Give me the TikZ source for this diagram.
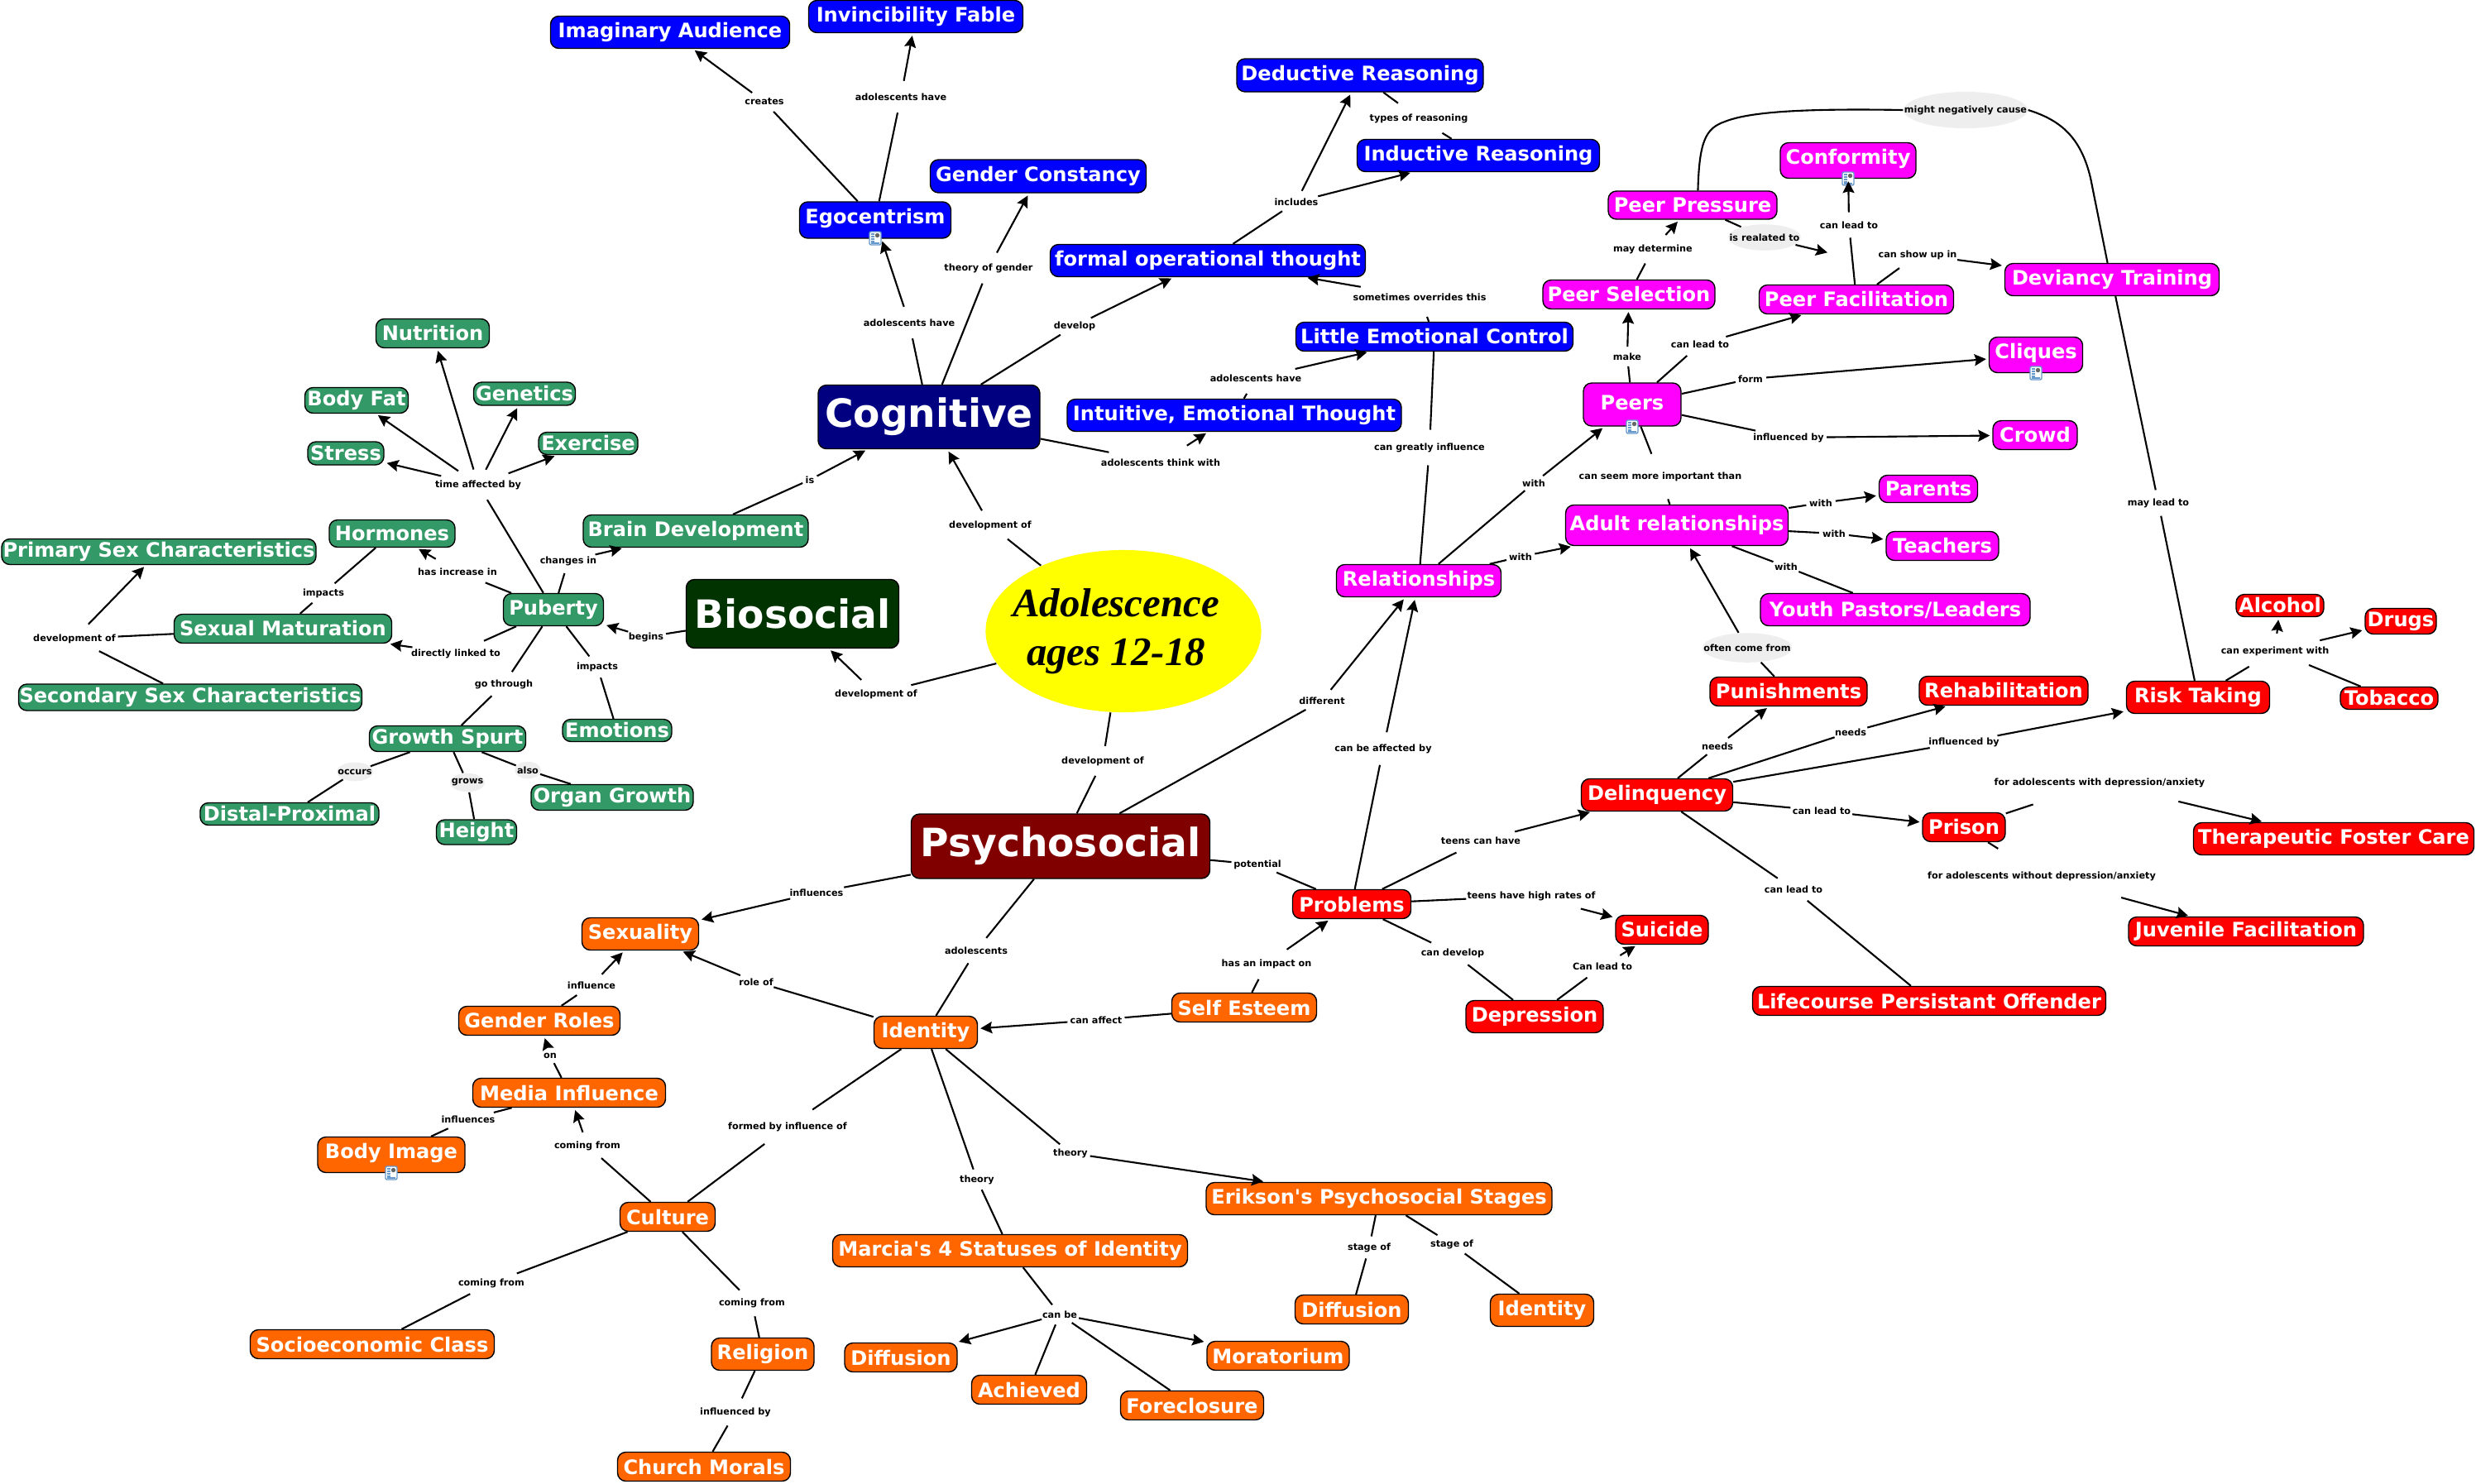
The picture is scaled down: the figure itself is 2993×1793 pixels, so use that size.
\documentclass[tikz,border=0pt]{standalone}
\usepackage{fontspec}
\setmainfont{DejaVu Sans}
\newfontfamily\titlefont{Liberation Serif}
\usetikzlibrary{shapes.geometric,arrows.meta}

\tikzset{
	concept/.style 2 args={draw=black,line width=0.4pt,rounded corners=0.1cm,text=white,inner sep=0pt,minimum width=#1*0.01cm,minimum height=#2*0.01cm,font=\fontsize{6.85}{8}\selectfont\bfseries},
	branch/.style 2 args={draw=black,line width=0.4pt,rounded corners=0.1cm,text=white,inner sep=0pt,minimum width=#1*0.01cm,minimum height=#2*0.01cm,font=\fontsize{13.4}{15}\selectfont\bfseries},
	phrase/.style={ellipse,inner sep=-60pt,minimum width={(#1+8)*0.01cm},minimum height={(14+0.2*(#1+8))*0.01cm},font=\fontsize{3.2}{4}\selectfont\bfseries},
	shaded/.style={fill=phrasegrey},
	link/.style={line width=0.6pt},
	linkto/.style={link,-{Stealth[inset=0.02cm,length=0.14cm,width=0.14cm]},shorten >=0.03cm},
	docicon/.style={draw=iconblue,fill=white,inner sep=0pt,minimum width=0.14cm,minimum height=0.16cm,rounded corners=0.02cm,line width=0.4pt,
		path picture={
			\fill[black!60] ([shift={(0,-6)}]path picture bounding box.center) rectangle ([shift={(5,-1)}]path picture bounding box.center);
			\foreach \yy in {-5,-2,1,4}
				\draw[line width=0.3pt] ([shift={(-5,\yy)}]path picture bounding box.center) -- ([shift={(-1,\yy)}]path picture bounding box.center);
			\draw[line width=0.3pt] ([shift={(-5,6)}]path picture bounding box.center) -- ([shift={(5,6)}]path picture bounding box.center);
		}}
}

\begin{document}
\begin{tikzpicture}[x=0.01cm,y=-0.01cm]
	\definecolor{cgreen}{HTML}{339966}
	\definecolor{cblue}{HTML}{0000FF}
	\definecolor{cnavy}{HTML}{000080}
	\definecolor{cforest}{HTML}{003300}
	\definecolor{cmaroon}{HTML}{800000}
	\definecolor{corange}{HTML}{FF6600}
	\definecolor{cpink}{HTML}{FF00FF}
	\definecolor{cred}{HTML}{FF0000}
	\definecolor{cyellow}{HTML}{FFFF00}
	\definecolor{phrasegrey}{HTML}{EEEEEE}
	\definecolor{iconblue}{HTML}{6699CC}
	\useasboundingbox (0,0) rectangle (2993,1793);

	\node[ellipse,fill=cyellow,inner sep=-60pt,minimum width=3.33cm,minimum height=1.96cm,align=center,font=\fontsize{13.9}{16.8}\selectfont\titlefont\bfseries\itshape] (teen) at (1358,763) {Adolescence\hspace*{0.18cm}\\ages 12-18\hspace*{0.18cm}};

	\node[branch={268}{77},fill=cnavy] (cognitive) at (1123,504) {Cognitive};
	\node[branch={257}{83},fill=cforest] (biosocial) at (958,742) {Biosocial};
	\node[branch={361}{78},fill=cmaroon] (psychosocial) at (1282,1023) {Psychosocial};

	\node[concept={289}{39},fill=cblue] (imaginary) at (810,39) {Imaginary Audience};
	\node[concept={259}{39},fill=cblue] (invincibility) at (1107,20) {Invincibility Fable};
	\node[concept={261}{40},fill=cblue] (constancy) at (1255,213) {Gender Constancy};
	\node[concept={183}{44},fill=cblue,text depth=0.1cm] (egocentrism) at (1058,266) {Egocentrism};
	\node[concept={298}{40},fill=cblue] (deductive) at (1644,91) {Deductive Reasoning};
	\node[concept={293}{39},fill=cblue] (inductive) at (1787,188) {Inductive Reasoning};
	\node[concept={381}{39},fill=cblue] (formal) at (1460,315) {formal operational thought};
	\node[concept={335}{35},fill=cblue] (little) at (1734,407) {Little Emotional Control};
	\node[concept={404}{39},fill=cblue] (intuitive) at (1492,502) {Intuitive, Emotional Thought};

	\node[concept={137}{35},fill=cgreen] (nutrition) at (523,403) {Nutrition};
	\node[concept={125}{31},fill=cgreen] (bodyfat) at (431,484) {Body Fat};
	\node[concept={123}{28},fill=cgreen] (genetics) at (634,476) {Genetics};
	\node[concept={92}{28},fill=cgreen] (stress) at (418,548) {Stress};
	\node[concept={120}{27},fill=cgreen] (exercise) at (711,536) {Exercise};
	\node[concept={152}{33},fill=cgreen] (hormones) at (474,645) {Hormones};
	\node[concept={380}{31},fill=cgreen] (primary) at (192,667) {Primary Sex Characteristics};
	\node[concept={263}{35},fill=cgreen] (sexual) at (342,760) {Sexual Maturation};
	\node[concept={415}{32},fill=cgreen] (secondary) at (230,843) {Secondary Sex Characteristics};
	\node[concept={121}{39},fill=cgreen] (puberty) at (669,737) {Puberty};
	\node[concept={272}{39},fill=cgreen] (brain) at (841,642) {Brain Development};
	\node[concept={132}{27},fill=cgreen] (emotions) at (746,883) {Emotions};
	\node[concept={189}{31},fill=cgreen] (growth) at (541,893) {Growth Spurt};
	\node[concept={196}{31},fill=cgreen] (organ) at (740,964) {Organ Growth};
	\node[concept={216}{27},fill=cgreen] (distal) at (350,984) {Distal-Proximal};
	\node[concept={97}{30},fill=cgreen] (height) at (576,1006) {Height};

	\node[concept={199}{39},fill=cpink] (relationships) at (1715,702) {Relationships};
	\node[concept={164}{43},fill=cpink,text depth=0.1cm] (conformity) at (2234,194) {Conformity};
	\node[concept={204}{34},fill=cpink] (pressure) at (2046,248) {Peer Pressure};
	\node[concept={208}{35},fill=cpink] (selection) at (1969,356) {Peer Selection};
	\node[concept={235}{35},fill=cpink] (facilitation) at (2244,362) {Peer Facilitation};
	\node[concept={259}{39},fill=cpink] (deviancy) at (2553,338) {Deviancy Training};
	\node[concept={113}{43},fill=cpink,text depth=0.1cm] (cliques) at (2461,429) {Cliques};
	\node[concept={118}{52},fill=cpink,text depth=0.05cm] (peers) at (1973,489) {Peers};
	\node[concept={102}{35},fill=cpink] (crowd) at (2460,526) {Crowd};
	\node[concept={119}{33},fill=cpink] (parents) at (2331,591) {Parents};
	\node[concept={269}{49},fill=cpink] (adult) at (2027,635) {Adult relationships};
	\node[concept={136}{35},fill=cpink] (teachers) at (2348,660) {Teachers};
	\node[concept={326}{39},fill=cpink] (pastors) at (2291,737) {Youth Pastors/Leaders};

	\node[concept={143}{35},fill=cred] (problems) at (1634,1093) {Problems};
	\node[concept={166}{39},fill=cred] (depression) at (1855,1229) {Depression};
	\node[concept={112}{35},fill=cred] (suicide) at (2009,1124) {Suicide};
	\node[concept={183}{39},fill=cred] (delinquency) at (2003,961) {Delinquency};
	\node[concept={190}{35},fill=cred] (punishments) at (2162,836) {Punishments};
	\node[concept={204}{35},fill=cred] (rehabilitation) at (2422,835) {Rehabilitation};
	\node[concept={173}{39},fill=cred] (risk) at (2657,843) {Risk Taking};
	\node[concept={106}{27},fill=cred] (alcohol) at (2756,732) {Alcohol};
	\node[concept={86}{31},fill=cred] (drugs) at (2902,751) {Drugs};
	\node[concept={118}{27},fill=cred] (tobacco) at (2888,844) {Tobacco};
	\node[concept={100}{35},fill=cred] (prison) at (2374,1000) {Prison};
	\node[concept={339}{39},fill=cred] (therapeutic) at (2821,1014) {Therapeutic Foster Care};
	\node[concept={284}{35},fill=cred] (juvenile) at (2715,1126) {Juvenile Facilitation};
	\node[concept={427}{35},fill=cred] (lifecourse) at (2332,1210) {Lifecourse Persistant Offender};

	\node[concept={141}{39},fill=corange] (sexuality) at (774,1129) {Sexuality};
	\node[concept={195}{35},fill=corange] (roles) at (652,1234) {Gender Roles};
	\node[concept={233}{35},fill=corange] (media) at (688,1321) {Media Influence};
	\node[concept={178}{43},fill=corange,text depth=0.1cm] (bodyimage) at (473,1396) {Body Image};
	\node[concept={115}{35},fill=corange] (culture) at (807,1471) {Culture};
	\node[concept={295}{35},fill=corange] (socio) at (450,1625) {Socioeconomic Class};
	\node[concept={124}{39},fill=corange] (religion) at (922,1637) {Religion};
	\node[concept={209}{35},fill=corange] (church) at (851,1773) {Church Morals};
	\node[concept={125}{39},fill=corange] (identity) at (1119,1248) {Identity};
	\node[concept={175}{35},fill=corange] (esteem) at (1504,1218) {Self Esteem};
	\node[concept={429}{39},fill=corange] (marcia) at (1221,1512) {Marcia\textquotesingle s 4 Statuses of Identity};
	\node[concept={418}{39},fill=corange] (erikson) at (1667,1449) {Erikson\textquotesingle s Psychosocial Stages};
	\node[concept={136}{35},fill=corange] (diffusion) at (1089,1641) {Diffusion};
	\node[concept={139}{35},fill=corange] (achieved) at (1244,1680) {Achieved};
	\node[concept={173}{35},fill=corange] (foreclosure) at (1441,1699) {Foreclosure};
	\node[concept={172}{35},fill=corange] (moratorium) at (1545,1639) {Moratorium};
	\node[concept={137}{35},fill=corange] (diffusionb) at (1634,1583) {Diffusion};
	\node[concept={125}{39},fill=corange] (identityb) at (1864,1584) {Identity};

	\node[docicon] (egoicon) at (1058,288) {};
	\node[docicon] (conformityicon) at (2234,216) {};
	\node[docicon] (peersicon) at (1973,516) {};
	\node[docicon] (cliquesicon) at (2461,451) {};
	\node[docicon] (imageicon) at (473,1418) {};

	\node[phrase=96] (devcog) at (1197,635) {development of};
	\node[phrase=96] (devbio) at (1059,839) {development of};
	\node[phrase=96] (devpsy) at (1333,920) {development of};

	\node[phrase=45] (creates) at (924,123) {creates};
	\node[phrase=107] (haveinv) at (1089,117) {adolescents have};
	\node[phrase=103] (gendertheory) at (1195,324) {theory of gender};
	\node[phrase=107] (haveego) at (1099,390) {adolescents have};
	\node[phrase=48] (develop) at (1299,394) {develop};
	\node[phrase=51] (includes) at (1567,244) {includes};
	\node[phrase=115] (types) at (1715,143) {types of reasoning};
	\node[phrase=156] (overrides) at (1716,359) {sometimes overrides this};
	\node[phrase=107] (havelittle) at (1518,457) {adolescents have};
	\node[phrase=140] (thinkwith) at (1403,559) {adolescents think with};
	\node[phrase=130] (greatly) at (1728,541) {can greatly influence};

	\node[phrase=10] (is) at (979,580) {is};
	\node[phrase=100] (timeby) at (578,586) {time affected by};
	\node[phrase=66] (changes) at (687,678) {changes in};
	\node[phrase=93] (increase) at (553,691) {has increase in};
	\node[phrase=48] (impactsex) at (391,717) {impacts};
	\node[phrase=97] (devsex) at (90,772) {development of};
	\node[phrase=41] (begins) at (781,770) {begins};
	\node[phrase=105] (directly) at (551,790) {directly linked to};
	\node[phrase=48] (impactemo) at (722,806) {impacts};
	\node[phrase=68] (gothrough) at (609,827) {go through};
	\node[phrase=36,shaded] (occurs) at (429,933) {occurs};
	\node[phrase=34,shaded] (grows) at (565,946) {grows};
	\node[phrase=24,shaded] (also) at (638,931) {also};

	\node[phrase=142,shaded] (negcause) at (2376,133) {might negatively cause};
	\node[phrase=80,shaded] (realated) at (2133,287) {is realated to};
	\node[phrase=68] (leadconf) at (2235,272) {can lead to};
	\node[phrase=93] (showup) at (2318,308) {can show up in};
	\node[phrase=93] (determine) at (1998,301) {may determine};
	\node[phrase=34] (make) at (1967,431) {make};
	\node[phrase=68] (leadfac) at (2055,416) {can lead to};
	\node[phrase=29] (form) at (2116,458) {form};
	\node[phrase=83] (influpeers) at (2162,529) {influenced by};
	\node[phrase=190] (important) at (2007,576) {can seem more important than};
	\node[phrase=27] (withpeers) at (1854,584) {with};
	\node[phrase=27] (withadult) at (1838,673) {with};
	\node[phrase=27] (withparents) at (2201,608) {with};
	\node[phrase=27] (withteachers) at (2217,645) {with};
	\node[phrase=27] (withpastors) at (2159,685) {with};
	\node[phrase=100,shaded] (comefrom) at (2112,783) {often come from};
	\node[phrase=72] (maylead) at (2609,608) {may lead to};
	\node[phrase=127] (experiment) at (2750,787) {can experiment with};

	\node[phrase=54] (different) at (1598,847) {different};
	\node[phrase=113] (affected) at (1672,905) {can be affected by};
	\node[phrase=55] (potential) at (1520,1045) {potential};
	\node[phrase=93] (teenshave) at (1790,1016) {teens can have};
	\node[phrase=150] (highrates) at (1851,1083) {teens have high rates of};
	\node[phrase=74] (candevelop) at (1756,1152) {can develop};
	\node[phrase=70] (capleads) at (1937,1168) {Can lead to};
	\node[phrase=105] (impacton) at (1531,1165) {has an impact on};
	\node[phrase=36] (needspun) at (2076,902) {needs};
	\node[phrase=36] (needsreh) at (2237,885) {needs};
	\node[phrase=82] (influrisk) at (2374,897) {influenced by};
	\node[phrase=251] (withanx) at (2538,946) {for adolescents with depression/anxiety};
	\node[phrase=68] (leadprison) at (2202,980) {can lead to};
	\node[phrase=68] (leadlife) at (2168,1075) {can lead to};
	\node[phrase=272] (withoutanx) at (2468,1059) {for adolescents without depression/anxiety};

	\node[phrase=64] (influsex) at (987,1079) {influences};
	\node[phrase=73] (adolescents) at (1180,1149) {adolescents};
	\node[phrase=61] (affect) at (1325,1233) {can affect};
	\node[phrase=57] (influence) at (715,1191) {influence};
	\node[phrase=40] (roleof) at (914,1187) {role of};
	\node[phrase=15] (on) at (665,1276) {on};
	\node[phrase=64] (influimage) at (566,1353) {influences};
	\node[phrase=78] (frommedia) at (710,1385) {coming from};
	\node[phrase=140] (formedby) at (952,1362) {formed by influence of};
	\node[phrase=78] (fromsocio) at (594,1551) {coming from};
	\node[phrase=78] (fromreligion) at (909,1575) {coming from};
	\node[phrase=83] (influchurch) at (889,1707) {influenced by};
	\node[phrase=40] (theoryerik) at (1294,1394) {theory};
	\node[phrase=40] (theorymarcia) at (1181,1426) {theory};
	\node[phrase=40] (canbe) at (1281,1589) {can be};
	\node[phrase=50] (stagea) at (1655,1508) {stage of};
	\node[phrase=50] (stageb) at (1755,1504) {stage of};

	\coordinate (realatedend) at (2212,306);

	\draw[link] (teen) -- (devcog);
	\draw[linkto] (devcog) -- (cognitive);
	\draw[link] (teen) -- (devbio);
	\draw[linkto] (devbio) -- (biosocial);
	\draw[link] (teen) -- (devpsy);
	\draw[link] (devpsy) -- (psychosocial);

	\draw[link] (cognitive) -- (haveego);
	\draw[linkto] (haveego) -- (egocentrism);
	\draw[link] (egocentrism) -- (creates);
	\draw[linkto] (creates) -- (imaginary);
	\draw[link] (egocentrism) -- (haveinv);
	\draw[linkto] (haveinv) -- (invincibility);
	\draw[link] (cognitive) -- (gendertheory);
	\draw[linkto] (gendertheory) -- (constancy);
	\draw[link] (cognitive) -- (develop);
	\draw[linkto] (develop) -- (formal);
	\draw[link] (formal) -- (includes);
	\draw[linkto] (includes) -- (deductive);
	\draw[linkto] (includes) -- (inductive);
	\draw[link] (deductive) -- (types);
	\draw[link] (types) -- (inductive);
	\draw[link] (little) -- (overrides);
	\draw[linkto] (overrides) -- (formal);
	\draw[link] (intuitive) -- (havelittle);
	\draw[linkto] (havelittle) -- (little);
	\draw[link] (cognitive) -- (thinkwith);
	\draw[linkto] (thinkwith) -- (intuitive);
	\draw[link] (little) -- (greatly);
	\draw[link] (greatly) -- (relationships);

	\draw[link] (brain) -- (is);
	\draw[linkto] (is) -- (cognitive);
	\draw[link] (biosocial) -- (begins);
	\draw[linkto] (begins) -- (puberty);
	\draw[link] (puberty) -- (changes);
	\draw[linkto] (changes) -- (brain);
	\draw[link] (puberty) -- (timeby);
	\draw[linkto] (timeby) -- (nutrition);
	\draw[linkto] (timeby) -- (bodyfat);
	\draw[linkto] (timeby) -- (genetics);
	\draw[linkto] (timeby) -- (stress);
	\draw[linkto] (timeby) -- (exercise);
	\draw[link] (puberty) -- (increase);
	\draw[linkto] (increase) -- (hormones);
	\draw[link] (hormones) -- (impactsex);
	\draw[link] (impactsex) -- (sexual);
	\draw[link] (puberty) -- (directly);
	\draw[linkto] (directly) -- (sexual);
	\draw[link] (sexual) -- (devsex);
	\draw[linkto] (devsex) -- (primary);
	\draw[link] (devsex) -- (secondary);
	\draw[link] (puberty) -- (impactemo);
	\draw[link] (impactemo) -- (emotions);
	\draw[link] (puberty) -- (gothrough);
	\draw[link] (gothrough) -- (growth);
	\draw[link] (growth) -- (occurs);
	\draw[link] (occurs) -- (distal);
	\draw[link] (growth) -- (grows);
	\draw[link] (grows) -- (height);
	\draw[link] (growth) -- (also);
	\draw[link] (also) -- (organ);

	\draw[link] (psychosocial) -- (different);
	\draw[linkto] (different) -- (relationships);
	\draw[link] (problems) -- (affected);
	\draw[linkto] (affected) -- (relationships);
	\draw[link] (relationships) -- (withpeers);
	\draw[linkto] (withpeers) -- (peers);
	\draw[link] (relationships) -- (withadult);
	\draw[linkto] (withadult) -- (adult);
	\draw[link] (peers) -- (make);
	\draw[linkto] (make) -- (selection);
	\draw[link] (selection) -- (determine);
	\draw[linkto] (determine) -- (pressure);
	\draw[link] (pressure) -- (realated);
	\draw[linkto] (realated) -- (realatedend);
	\draw[link] (peers) -- (leadfac);
	\draw[linkto] (leadfac) -- (facilitation);
	\draw[link] (facilitation) -- (leadconf);
	\draw[linkto] (leadconf) -- (conformity);
	\draw[link] (facilitation) -- (showup);
	\draw[linkto] (showup) -- (deviancy);
	\draw[link] (peers) -- (form);
	\draw[linkto] (form) -- (cliques);
	\draw[link] (peers) -- (influpeers);
	\draw[linkto] (influpeers) -- (crowd);
	\draw[link] (peers) -- (important);
	\draw[link] (important) -- (adult);
	\draw[link] (adult) -- (withparents);
	\draw[linkto] (withparents) -- (parents);
	\draw[link] (adult) -- (withteachers);
	\draw[linkto] (withteachers) -- (teachers);
	\draw[link] (adult) -- (withpastors);
	\draw[link] (withpastors) -- (pastors);
	\draw[link] (punishments) -- (comefrom);
	\draw[linkto] (comefrom) -- (adult);
	\draw[link] (pressure.70) .. controls (2054,170) and (2062,155) .. (2085,147) .. controls (2115,135) and (2180,131) .. (negcause.west);
	\draw[link] (negcause.east) .. controls (2490,145) and (2515,165) .. (2527,215) .. controls (2535,255) and (2540,280) .. (deviancy.105);
	\draw[link] (risk) -- (maylead);
	\draw[link] (maylead) -- (deviancy);

	\draw[link] (psychosocial) -- (potential);
	\draw[link] (potential) -- (problems);
	\draw[link] (problems) -- (teenshave);
	\draw[linkto] (teenshave) -- (delinquency);
	\draw[link] (problems) -- (highrates);
	\draw[linkto] (highrates) -- (suicide);
	\draw[link] (problems) -- (candevelop);
	\draw[link] (candevelop) -- (depression);
	\draw[link] (depression) -- (capleads);
	\draw[linkto] (capleads) -- (suicide);
	\draw[link] (delinquency) -- (needspun);
	\draw[linkto] (needspun) -- (punishments);
	\draw[link] (delinquency) -- (needsreh);
	\draw[linkto] (needsreh) -- (rehabilitation);
	\draw[link] (delinquency) -- (influrisk);
	\draw[linkto] (influrisk) -- (risk);
	\draw[link] (delinquency) -- (leadprison);
	\draw[linkto] (leadprison) -- (prison);
	\draw[link] (delinquency) -- (leadlife);
	\draw[link] (leadlife) -- (lifecourse);
	\draw[link] (prison) -- (withanx);
	\draw[linkto] (withanx) -- (therapeutic);
	\draw[link] (prison) -- (withoutanx);
	\draw[linkto] (withoutanx) -- (juvenile);
	\draw[link] (risk) -- (experiment);
	\draw[linkto] (experiment) -- (alcohol);
	\draw[linkto] (experiment) -- (drugs);
	\draw[link] (experiment) -- (tobacco);

	\draw[link] (psychosocial) -- (influsex);
	\draw[linkto] (influsex) -- (sexuality);
	\draw[link] (psychosocial) -- (adolescents);
	\draw[link] (adolescents) -- (identity);
	\draw[link] (identity) -- (roleof);
	\draw[linkto] (roleof) -- (sexuality);
	\draw[link] (esteem) -- (affect);
	\draw[linkto] (affect) -- (identity);
	\draw[link] (esteem) -- (impacton);
	\draw[linkto] (impacton) -- (problems);
	\draw[link] (roles) -- (influence);
	\draw[linkto] (influence) -- (sexuality);
	\draw[link] (media) -- (on);
	\draw[linkto] (on) -- (roles);
	\draw[link] (media) -- (influimage);
	\draw[link] (influimage) -- (bodyimage);
	\draw[link] (culture) -- (frommedia);
	\draw[linkto] (frommedia) -- (media);
	\draw[link] (identity) -- (formedby);
	\draw[link] (formedby) -- (culture);
	\draw[link] (culture) -- (fromsocio);
	\draw[link] (fromsocio) -- (socio);
	\draw[link] (culture) -- (fromreligion);
	\draw[link] (fromreligion) -- (religion);
	\draw[link] (religion) -- (influchurch);
	\draw[link] (influchurch) -- (church);
	\draw[link] (identity) -- (theorymarcia);
	\draw[link] (theorymarcia) -- (marcia);
	\draw[link] (identity) -- (theoryerik);
	\draw[linkto] (theoryerik) -- (erikson);
	\draw[link] (marcia) -- (canbe);
	\draw[linkto] (canbe) -- (diffusion);
	\draw[link] (canbe) -- (achieved);
	\draw[link] (canbe) -- (foreclosure);
	\draw[linkto] (canbe) -- (moratorium);
	\draw[link] (erikson) -- (stagea);
	\draw[link] (stagea) -- (diffusionb);
	\draw[link] (erikson) -- (stageb);
	\draw[link] (stageb) -- (identityb);
\end{tikzpicture}
\end{document}
